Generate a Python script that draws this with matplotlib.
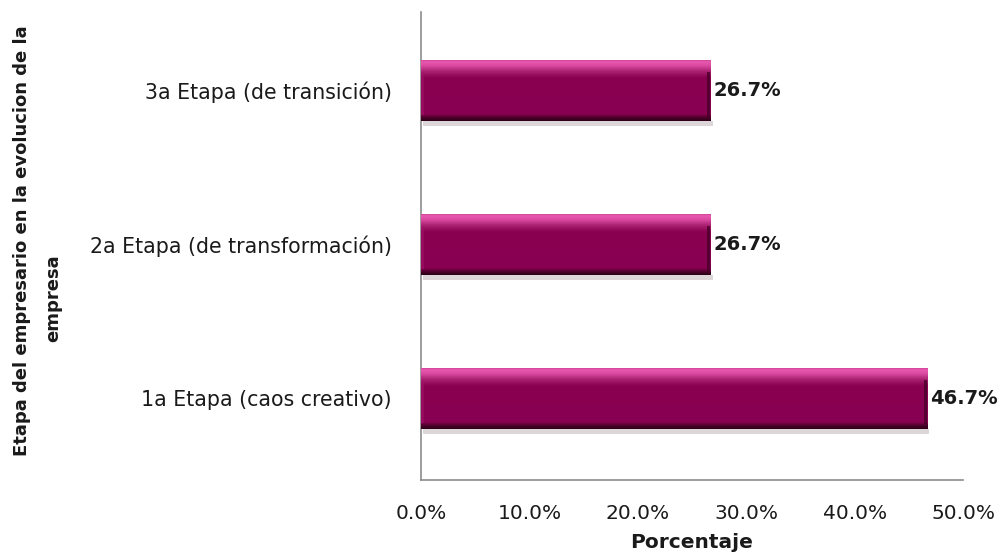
import matplotlib
matplotlib.use('Agg')
import matplotlib.pyplot as plt
import numpy as np
from matplotlib.colors import LinearSegmentedColormap
from matplotlib.ticker import FuncFormatter

# Datos
etapas = ['1a Etapa (caos creativo)', '2a Etapa (de transformación)', '3a Etapa (de transición)']
porcentajes = [46.7, 26.7, 26.7]

plt.rcParams['font.family'] = ['DejaVu Sans']

fig = plt.figure(figsize=(9.99, 5.56), dpi=100)
ax = fig.add_axes([0.4214, 0.1367, 0.5426, 0.8417])

y = np.arange(len(etapas))
alto = 0.40
barras = ax.barh(y, porcentajes, height=alto, color='#8a0052', edgecolor='none', zorder=2)

# degradado vertical para dar efecto de relieve a cada barra
cmap = LinearSegmentedColormap.from_list('bisel', [
    (0.00, '#2e0018'), (0.05, '#4a0029'), (0.11, '#880051'),
    (0.70, '#8a0052'), (0.80, '#a8206f'), (0.90, '#dc4ba2'), (0.96, '#e65aae'), (1.00, '#c8388e')])
grad = np.linspace(0, 1, 200).reshape(-1, 1)
for b in barras:
    x0, y0 = b.get_x(), b.get_y()
    w, h = b.get_width(), b.get_height()
    im = ax.imshow(grad, cmap=cmap, aspect='auto', origin='lower',
                   extent=[x0, x0 + w, y0, y0 + h], zorder=3, interpolation='bilinear')
    im.set_clip_path(b)
    # bordes laterales
    ax.fill_between([x0, x0 + 0.3], y0 + h * 0.1, y0 + h * 0.78, color='#a01468', alpha=0.6, zorder=4, lw=0)
    ax.fill_between([x0 + w - 0.3, x0 + w], y0 + h * 0.05, y0 + h * 0.8, color='#4a002a', alpha=0.8, zorder=4, lw=0)
    # sombra debajo
    ax.fill_between([x0 + 0.2, x0 + w + 0.2], y0 - 0.03, y0, color='#ddd6d9', zorder=1, lw=0)

for yi, v in zip(y, porcentajes):
    ax.text(v + 0.25, yi, f'{v:.1f}%', va='center', ha='left', fontsize=14,
            fontweight='bold', color='#1a1a1a', zorder=5)

ax.set_xlim(0, 50)
ax.set_ylim(-0.53, 2.51)
ax.set_xticks([0, 10, 20, 30, 40, 50])
ax.xaxis.set_major_formatter(FuncFormatter(lambda v, p: f'{v:.1f}%'))
ax.set_yticks(y)
ax.set_yticklabels(etapas)
ax.tick_params(axis='x', length=0, pad=17, labelsize=14.5, colors='#1a1a1a')
ax.tick_params(axis='y', length=0, pad=21, labelsize=14.8, colors='#1a1a1a')

for s in ['top', 'right']:
    ax.spines[s].set_visible(False)
for s in ['left', 'bottom']:
    ax.spines[s].set_color('#8c8c8c')
    ax.spines[s].set_linewidth(1.2)

fig.text(0.692, 1 - 542 / 556, 'Porcentaje', ha='center', va='center', fontsize=14.5,
         fontweight='bold', color='#1a1a1a')
fig.text(0.022, 1 - 241 / 556, 'Etapa del empresario en la evolucion de la', rotation=90,
         ha='center', va='center', fontsize=13, fontweight='bold', color='#1a1a1a')
fig.text(0.053, 1 - 298 / 556, 'empresa', rotation=90,
         ha='center', va='center', fontsize=13, fontweight='bold', color='#1a1a1a')

fig.savefig('out.png', dpi=100, facecolor='white')
